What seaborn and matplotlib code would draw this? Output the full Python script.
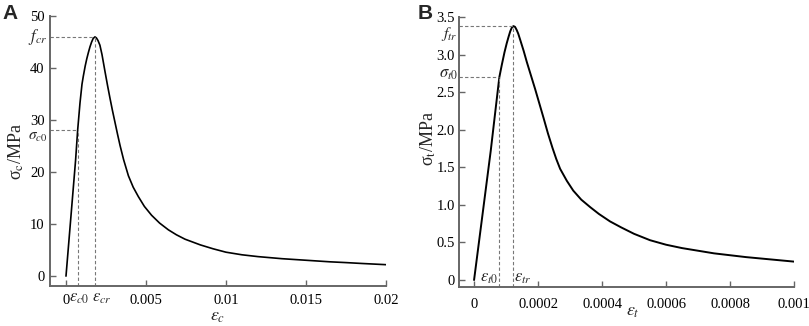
import numpy as np
import pandas as pd
import seaborn as sns
import matplotlib.pyplot as plt
from matplotlib import transforms

# %% Data read off the reference
# Panel A - compression
strain_c = [0, 0.00060, 0.00073, 0.000875, 0.00100, 0.00108, 0.00120, 0.00130, 0.00140, 0.00150,
            0.00160, 0.00170, 0.00181, 0.00190, 0.00200, 0.00212, 0.00225, 0.00244, 0.00260,
            0.00275, 0.00290, 0.00306, 0.00322, 0.00338, 0.00360, 0.00390, 0.00420, 0.00452,
            0.00490, 0.00535, 0.00585, 0.00640, 0.00690, 0.00744, 0.0084, 0.0092, 0.0100,
            0.0110, 0.0120, 0.0135, 0.0150, 0.0165, 0.0175, 0.0185, 0.0200]
stress_c = [0, 22.3, 28.1, 33.3, 36.9, 38.4, 40.4, 41.8, 43.0, 44.1,
            45.0, 45.7, 46.0, 45.8, 45.3, 44.4, 42.6, 39.3, 36.6,
            34.2, 31.9, 29.6, 27.3, 25.1, 22.4, 19.3, 17.1, 15.3,
            13.4, 11.7, 10.2, 8.9, 7.95, 7.1, 6.0, 5.25, 4.6,
            4.1, 3.75, 3.35, 3.05, 2.75, 2.6, 2.43, 2.2]
f_cr, eps_cr = 46.0, 0.00181
sig_c0, eps_c0 = 28.1, 0.00073

# Panel B - tension
strain_t = [0, 0.0000521, 0.0000688, 0.000079, 0.0000865, 0.000095, 0.000102, 0.000108, 0.000113,
            0.000118, 0.000123, 0.000128, 0.000133, 0.000138, 0.000144, 0.000155, 0.000165,
            0.000178, 0.000191, 0.000204, 0.000217, 0.000231, 0.000245, 0.000257, 0.000269,
            0.000290, 0.000310, 0.000335, 0.000363, 0.000390, 0.000425, 0.000460, 0.000500,
            0.000550, 0.000600, 0.000650, 0.000700, 0.000750, 0.000800, 0.000850, 0.000900,
            0.000950, 0.001000]
stress_t = [0, 1.72, 2.33, 2.70, 2.86, 3.03, 3.15, 3.24, 3.31,
            3.36, 3.38, 3.37, 3.33, 3.28, 3.20, 3.05, 2.90,
            2.72, 2.54, 2.35, 2.16, 1.95, 1.76, 1.61, 1.48,
            1.32, 1.19, 1.07, 0.97, 0.88, 0.78, 0.70, 0.615,
            0.53, 0.47, 0.425, 0.39, 0.355, 0.33, 0.305, 0.285,
            0.265, 0.245]
f_tr, eps_tr = 3.38, 0.000123
sig_t0, eps_t0 = 2.70, 0.000079

# tick values and labels
xticks_c = [0, 0.005, 0.01, 0.015, 0.02]
xlabels_c = ['0', '0.005', '0.01', '0.015', '0.02']
yticks_c = [0, 10, 20, 30, 40, 50]
xticks_t = [0, 0.0002, 0.0004, 0.0006, 0.0008, 0.001]
xlabels_t = ['0', '0.0002', '0.0004', '0.0006', '0.0008', '0.001']
yticks_t = [0, 0.5, 1.0, 1.5, 2.0, 2.5, 3.0, 3.5]
ylabels_t = ['0', '0.5', '1.0', '1.5', '2.0', '2.5', '3.0', '3.5']

# %% Style
sns.set_style('ticks')
plt.rcParams['font.family'] = ['Liberation Serif', 'DejaVu Serif']
plt.rcParams['mathtext.fontset'] = 'stix'

spine_col = '#666666'
dash_col = '#777777'

fig = plt.figure(figsize=(8.09, 3.26), dpi=100)
ax1 = fig.add_axes([0.0618, 0.1227, 0.4153, 0.828])
ax2 = fig.add_axes([0.5674, 0.1196, 0.4141, 0.828])

sns.lineplot(x=strain_c, y=stress_c, ax=ax1, color='black', lw=1.2, estimator=None, sort=False)
sns.lineplot(x=strain_t, y=stress_t, ax=ax2, color='black', lw=1.4, estimator=None, sort=False)

ax1.set_xlim(-0.001, 0.02)
ax1.set_ylim(-1.9, 50)
ax2.set_xlim(-0.000047, 0.001)
ax2.set_ylim(-0.093, 3.5)

ax1.set_xticks(xticks_c, xlabels_c)
ax1.set_yticks(yticks_c)
ax2.set_xticks(xticks_t, xlabels_t)
ax2.set_yticks(yticks_t, ylabels_t)

for ax in (ax1, ax2):
    sns.despine(ax=ax)
    for s in ('left', 'bottom'):
        ax.spines[s].set_color(spine_col)
        ax.spines[s].set_linewidth(1.4)
    ax.tick_params(direction='in', length=4, width=1, color=spine_col,
                   labelsize=10.5, labelcolor='black')
ax1.tick_params(axis='x', pad=6)
ax1.tick_params(axis='y', pad=4)
ax2.tick_params(axis='x', pad=8)
ax2.tick_params(axis='y', pad=3)

# dashed guide lines
dash = dict(ls=(0, (3, 2)), color=dash_col, lw=0.8)
x0, y0 = ax1.get_xlim()[0], ax1.get_ylim()[0]
ax1.plot([x0, eps_cr], [f_cr, f_cr], **dash)
ax1.plot([eps_cr, eps_cr], [y0, f_cr], **dash)
ax1.plot([x0, eps_c0], [sig_c0, sig_c0], **dash)
ax1.plot([eps_c0, eps_c0], [y0, sig_c0], **dash)
x0, y0 = ax2.get_xlim()[0], ax2.get_ylim()[0]
ax2.plot([x0, eps_tr], [f_tr, f_tr], **dash)
ax2.plot([eps_tr, eps_tr], [y0, f_tr], **dash)
ax2.plot([x0, eps_t0], [sig_t0, sig_t0], **dash)
ax2.plot([eps_t0, eps_t0], [y0, sig_t0], **dash)

# labels
ax1.set_ylabel('σ$_\\mathrm{c}$/MPa', fontsize=13)
ax1.yaxis.set_label_coords(-0.07, 0.5)
ax1.set_xlabel(r'$\varepsilon_c$', fontsize=13)
ax1.xaxis.set_label_coords(0.5, -0.08)
ax2.set_ylabel('σ$_\\mathrm{t}$/MPa', fontsize=13)
ax2.yaxis.set_label_coords(-0.064, 0.552)
ax2.set_xlabel(r'$\varepsilon_t$', fontsize=13)
ax2.xaxis.set_label_coords(0.52, -0.06)

ty1 = transforms.blended_transform_factory(ax1.transAxes, ax1.transData)
ax1.text(-0.008, f_cr, r'$f_{cr}$', transform=ty1, ha='right', va='center', fontsize=12)
ax1.text(-0.008, sig_c0 - 1.5, r'$\sigma_{c0}$', transform=ty1, ha='right', va='center', fontsize=11)
tx1 = transforms.blended_transform_factory(ax1.transData, ax1.transAxes)
ax1.text(eps_c0 + 0.0001, -0.043, r'$\varepsilon_{c0}$', transform=tx1, ha='center', va='center', fontsize=12)
ax1.text(eps_cr + 0.0004, -0.043, r'$\varepsilon_{cr}$', transform=tx1, ha='center', va='center', fontsize=12)

ty2 = transforms.blended_transform_factory(ax2.transAxes, ax2.transData)
ax2.text(-0.004, f_tr - 0.1, r'$f_{tr}$', transform=ty2, ha='right', va='center', fontsize=11.5)
ax2.text(-0.004, sig_t0 + 0.04, r'$\sigma_{t0}$', transform=ty2, ha='right', va='center', fontsize=12)
tx2 = transforms.blended_transform_factory(ax2.transData, ax2.transAxes)
ax2.text(eps_t0 - 0.000004, 0.004, r'$\varepsilon_{t0}$', transform=tx2, ha='right', va='bottom', fontsize=12)
ax2.text(eps_tr + 0.000002, 0.004, r'$\varepsilon_{tr}$', transform=tx2, ha='left', va='bottom', fontsize=12)

fig.text(0.003, 0.988, 'A', ha='left', va='top', fontsize=15, fontweight='bold', family='Liberation Sans')
fig.text(0.516, 0.988, 'B', ha='left', va='top', fontsize=15, fontweight='bold', family='Liberation Sans')

plt.savefig('out.png', dpi=100)
